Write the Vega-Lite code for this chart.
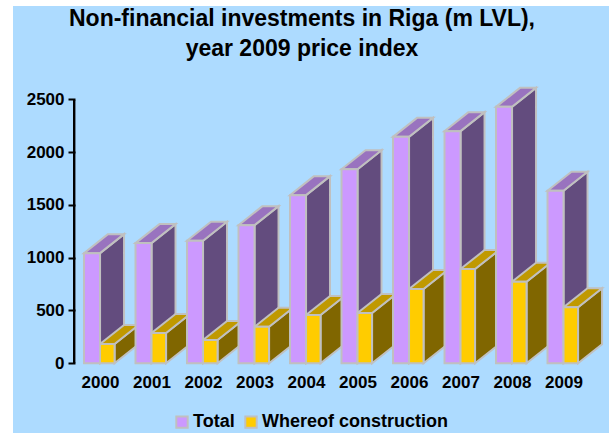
{
"$schema":"https://vega.github.io/schema/vega-lite/v6.json",
"width":596,"height":427,"autosize":{"type":"none"},
"padding":{"left":13,"top":6,"right":0,"bottom":0},
"background":"white",
"view":{"fill":"#ADDBFF","stroke":null},
"title":{"text":["Non-financial investments in Riga (m LVL),","year 2009 price index"],"font":"Liberation Sans","fontWeight":"bold","fontSize":23,"color":"#000000","anchor":"middle","dx":-9,"offset":-55,"lineHeight":30},
"data":{"values":[
{"year":2000,"series":"Total","value":1043},{"year":2001,"series":"Total","value":1138},{"year":2002,"series":"Total","value":1160},{"year":2003,"series":"Total","value":1308},{"year":2004,"series":"Total","value":1592},{"year":2005,"series":"Total","value":1838},{"year":2006,"series":"Total","value":2144},{"year":2007,"series":"Total","value":2198},{"year":2008,"series":"Total","value":2428},{"year":2009,"series":"Total","value":1633},
{"year":2000,"series":"Whereof construction","value":183},{"year":2001,"series":"Whereof construction","value":287},{"year":2002,"series":"Whereof construction","value":220},{"year":2003,"series":"Whereof construction","value":346},{"year":2004,"series":"Whereof construction","value":457},{"year":2005,"series":"Whereof construction","value":476},{"year":2006,"series":"Whereof construction","value":703},{"year":2007,"series":"Whereof construction","value":892},{"year":2008,"series":"Whereof construction","value":772},{"year":2009,"series":"Whereof construction","value":530}
]},
"transform":[
{"calculate":"datum.series==='Total'?datum.year:datum.year+0.311","as":"x0"},
{"calculate":"datum.series==='Total'?datum.year+0.311:datum.year+0.593","as":"x1"}
],
"encoding":{},
"layer":[
{"mark":{"type":"rule","color":"#000000","strokeWidth":2},
 "encoding":{"x":{"datum":1999.806,"type":"quantitative","scale":{"domain":[1998.621,2010.194],"nice":false,"zero":false}},"y":{"datum":0,"type":"quantitative"},"y2":{"datum":2500}}},
{"transform":[{"filter":"datum.series==='Total'"},{"calculate":"[0,1]","as":"edge"},{"flatten":["edge"]},{"calculate":"datum.x1+datum.edge*0.466","as":"sx"},{"calculate":"datum.value+datum.edge*180","as":"sy"},{"calculate":"datum.edge*180","as":"sy2"}],
 "mark":{"type":"area","orient":"vertical","fill":"#634C7E","stroke":"#C0C0C0","strokeWidth":2},
 "encoding":{"x":{"field":"sx","type":"quantitative"},"y":{"field":"sy","type":"quantitative"},"y2":{"field":"sy2"},"detail":{"field":"year"}}},
{"transform":[{"filter":"datum.series==='Total'"},{"calculate":"[0,1]","as":"edge"},{"flatten":["edge"]},{"calculate":"datum.x0+datum.edge*0.466","as":"tx"},{"calculate":"datum.x1+datum.edge*0.466","as":"tx2"},{"calculate":"datum.value+datum.edge*180","as":"ty"}],
 "mark":{"type":"area","orient":"horizontal","fill":"#9973BF","stroke":"#C0C0C0","strokeWidth":2},
 "encoding":{"x":{"field":"tx","type":"quantitative"},"x2":{"field":"tx2"},"y":{"field":"ty","type":"quantitative"},"detail":{"field":"year"}}},
{"transform":[{"filter":"datum.series!=='Total'"},{"calculate":"[0,1]","as":"edge"},{"flatten":["edge"]},{"calculate":"datum.x1+datum.edge*0.466","as":"sx"},{"calculate":"datum.value+datum.edge*180","as":"sy"},{"calculate":"datum.edge*180","as":"sy2"}],
 "mark":{"type":"area","orient":"vertical","fill":"#806600","stroke":"#C0C0C0","strokeWidth":2},
 "encoding":{"x":{"field":"sx","type":"quantitative"},"y":{"field":"sy","type":"quantitative"},"y2":{"field":"sy2"},"detail":{"field":"year"}}},
{"transform":[{"filter":"datum.series!=='Total'"},{"calculate":"[0,1]","as":"edge"},{"flatten":["edge"]},{"calculate":"datum.x0+datum.edge*0.466","as":"tx"},{"calculate":"datum.x1+datum.edge*0.466","as":"tx2"},{"calculate":"datum.value+datum.edge*180","as":"ty"}],
 "mark":{"type":"area","orient":"horizontal","fill":"#C09900","stroke":"#C0C0C0","strokeWidth":2},
 "encoding":{"x":{"field":"tx","type":"quantitative"},"x2":{"field":"tx2"},"y":{"field":"ty","type":"quantitative"},"detail":{"field":"year"}}},
{"mark":{"type":"rect","stroke":"#C0C0C0","strokeWidth":2},
 "encoding":{
  "x":{"field":"x0","type":"quantitative","scale":{"domain":[1998.621,2010.194],"nice":false,"zero":false},
   "axis":{"values":[2000,2001,2002,2003,2004,2005,2006,2007,2008,2009],"format":"d","title":null,"grid":false,"domain":false,"ticks":false,"labelOverlap":false,"labelFlush":false,"offset":-61,"labelPadding":2,"labelOffset":16,"labelFont":"Liberation Sans","labelFontWeight":"bold","labelFontSize":17,"labelColor":"#000000"}},
  "x2":{"field":"x1"},
  "y":{"field":"value","type":"quantitative","scale":{"domain":[-660,3383],"nice":false,"zero":false},
   "axis":{"values":[0,500,1000,1500,2000,2500],"format":"d","title":null,"grid":false,"domain":false,"offset":-62,"tickSize":7,"tickWidth":2,"tickColor":"#000000","labelPadding":4,"labelFont":"Liberation Sans","labelFontWeight":"bold","labelFontSize":17,"labelColor":"#000000"}},
  "y2":{"datum":0},
  "fill":{"field":"series","type":"nominal","scale":{"domain":["Total","Whereof construction"],"range":["#CC99FF","#FFCC00"]},
   "legend":{"title":null,"orient":"none","legendX":160,"legendY":407,"direction":"horizontal","symbolType":"square","symbolSize":130,"symbolStrokeColor":"#C0C0C0","symbolStrokeWidth":2,"labelFont":"Liberation Sans","labelFontWeight":"bold","labelFontSize":18,"labelColor":"#000000","columnPadding":6,"labelOffset":2,"labelLimit":0}}
 }}
]
}
